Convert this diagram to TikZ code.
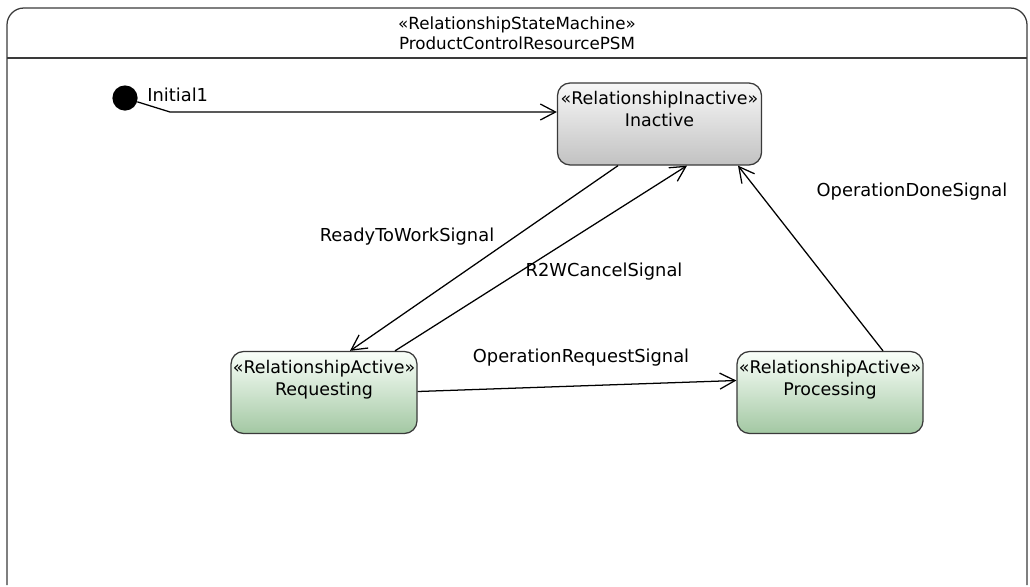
\documentclass[tikz,border=0pt]{standalone}
\usepackage{fontspec}
\setmainfont{DejaVu Sans}
\usetikzlibrary{arrows.meta,calc}
\definecolor{framegray}{HTML}{3A3A3A}
\tikzset{
  statebox/.style={draw=framegray, rounded corners=9pt, line width=0.9pt,
    minimum height=2.05cm, align=center, inner sep=1pt,
    font=\fontsize{12.4}{15.5}\selectfont},
  inactive/.style={statebox, minimum width=5.1cm, top color=gray!6, bottom color=gray!48},
  active/.style={statebox, minimum width=4.65cm, top color=green!2!white, bottom color=green!25!gray!58},
  trans/.style={-{Straight Barb[length=3.8mm,width=4mm]}, line width=0.9pt},
  lbl/.style={font=\fontsize{12.7}{15}\selectfont, inner sep=0pt}
}
\begin{document}
\begin{tikzpicture}[x=0.025cm, y=-0.025cm]
\useasboundingbox (0,0) rectangle (1030,586);
% frame of the state machine
\draw[framegray, line width=0.9pt, rounded corners=12pt] (7,585) -- (7,8) -- (1027,8) -- (1027,585);
\draw[framegray, line width=0.9pt] (7,58) -- (1027,58);
\node[align=center, font=\fontsize{11.9}{14.5}\selectfont] (h) at (517,33) {«RelationshipStateMachine»\\ProductControlResourcePSM};
% states
\node[circle, fill=black, minimum size=0.63cm, inner sep=0pt] (i) at (125,98) {};
\node[lbl, anchor=west] (il) at (147,95) {Initial1};
\node[inactive] (n1) at (659.5,124) {«RelationshipInactive»\\Inactive\\[0.2cm]};
\node[active] (n2) at (324,392.5) {«RelationshipActive»\\Requesting\\[0.2cm]};
\node[active] (n3) at (830,392.5) {«RelationshipActive»\\Processing\\[0.2cm]};
% transitions
\coordinate (k) at (170,112);
\draw[trans] (i) -- (k) -- (k -| n1.west);
\draw[trans] ($(n1.south)+(-41.5,0)$) -- ($(n2.north)+(26,0)$);
\draw[trans] ($(n2.north)+(71,0)$) -- ($(n1.south)+(27.5,0)$);
\draw[trans] ($(n2.east)+(0,-1)$) -- ($(n3.west)+(0,-12)$);
\draw[trans] ($(n3.north)+(53,0)$) -- ($(n1.south)+(78.5,0)$);
% labels
\node[lbl] (t1) at (407,237) {ReadyToWorkSignal};
\node[lbl] (t2) at (604,272) {R2WCancelSignal};
\node[lbl] (t3) at (581,358) {OperationRequestSignal};
\node[lbl] (t4) at (912,192) {OperationDoneSignal};
\end{tikzpicture}
\end{document}
